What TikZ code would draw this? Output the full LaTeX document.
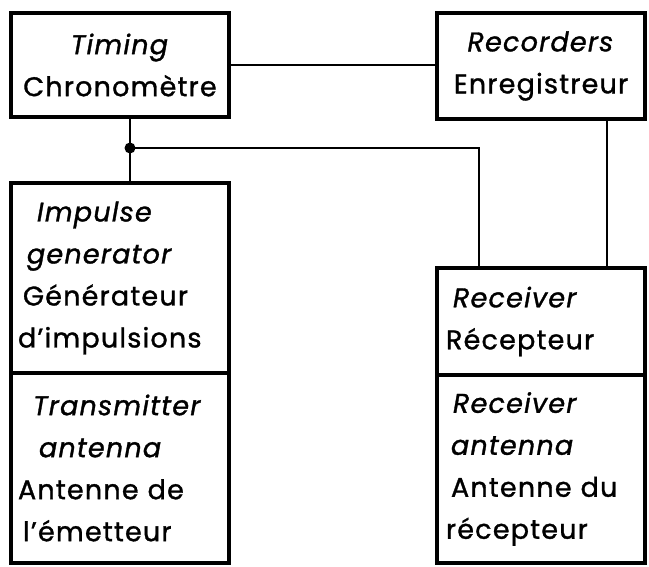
\documentclass[tikz,border=0pt]{standalone}
\usepackage{fontspec}
\setmainfont{Poppins}[LetterSpace=4.5, FakeBold=1.2]
\usetikzlibrary{calc}
\tikzset{
  unit/.style={draw, line width=3.5pt, outer sep=0pt, inner ysep=0pt,
    inner xsep=7pt, text width=#1, minimum height=0pt,
    font=\fontsize{27}{42}\selectfont},
  wire/.style={line width=2.5pt},
}
\begin{document}
\begin{tikzpicture}[x=1pt, y=-1pt]
  \useasboundingbox (0,0) rectangle (649,567);
  \node [unit=204pt, align=center, minimum height=104pt] (timing) at (120,65)
    {\textit{Timing}\\Chronomètre};
  \node [unit=194pt, align=center, minimum height=106pt] (recorders) at (541,66)
    {\textit{Recorders}\\Enregistreur};
  \node [unit=204pt, align=left, minimum height=190pt] (impulse) at (120,278)
    {\hspace*{19pt}\textit{Impulse}\\\hspace*{9pt}\textit{generator}\\\hspace*{5pt}Générateur\\d'impulsions};
  \node [unit=204pt, align=left, minimum height=190pt] (transmitter) at (120,468)
    {\hspace*{15pt}\textit{Transmitter}\\\hspace*{21pt}\textit{antenna}\\Antenne de\\\hspace*{5pt}l'émetteur};
  \node [unit=194pt, align=left, minimum height=107pt] (receiver) at (541,321.5)
    {\hspace*{9pt}\textit{Receiver}\\\hspace*{2pt}Récepteur};
  \node [unit=194pt, align=left, minimum height=188pt] (rxantenna) at (541,469)
    {\hspace*{9pt}\textit{Receiver}\\\hspace*{7pt}\textit{antenna}\\\hspace*{7pt}Antenne du\\\hspace*{2pt}récepteur};
  \coordinate (tap) at (130,148);
  \coordinate (bend) at (479,148);
  \coordinate (rec) at (607,0);
  \draw [wire] (timing.east) -- (timing.east -| recorders.west);
  \draw [wire] (timing.south -| tap) -- (impulse.north -| tap);
  \draw [wire] (tap) -| (receiver.north -| bend);
  \draw [wire] (recorders.south -| rec) -- (receiver.north -| rec);
  \fill (tap) circle (5.5pt);
\end{tikzpicture}
\end{document}
